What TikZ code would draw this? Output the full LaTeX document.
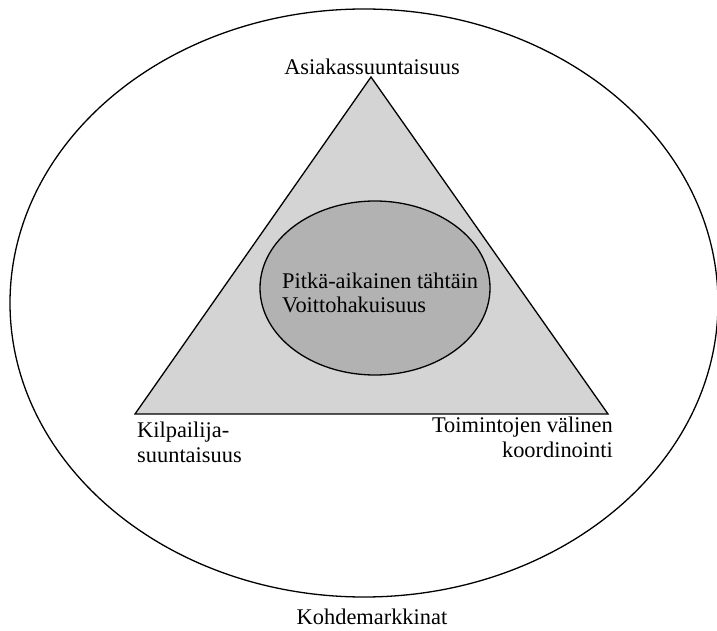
\documentclass[tikz,border=0pt]{standalone}
\usepackage{fontspec}
\setmainfont{Liberation Serif}
\usetikzlibrary{positioning}
\begin{document}
\begin{tikzpicture}[x=1pt,y=1pt,
  every node/.style={font=\fontsize{22.4}{25}\selectfont,inner sep=0pt},
  lbl/.style={align=left},
  rim/.style={draw=black,line width=1.3pt}]
\useasboundingbox (0,0) rectangle (717,630);
\coordinate (apex) at (371,553);
\coordinate (bl) at (135,216);
\coordinate (br) at (608,216);
\draw[rim] (364,327) ellipse [x radius=354,y radius=294];
\draw[rim,fill=black!17] (apex) -- (bl) -- (br) -- cycle;
\draw[rim,fill=black!30] (375,342) ellipse [x radius=115,y radius=87];
\node[anchor=base] (asiakas) at (372,555) {Asiakassuuntaisuus};
\node[lbl,anchor=base west] (tahtain) at (282,317) {Pitkä-aikainen tähtäin\\Voittohakuisuus};
\node[lbl,anchor=base west] (kilpailija) at (137,168) {Kilpailija-\\suuntaisuus};
\node[align=right,anchor=base east] (toiminnot) at (613,173) {Toimintojen välinen\\koordinointi};
\node[anchor=base] (kohde) at (372,6) {Kohdemarkkinat};
\end{tikzpicture}
\end{document}
